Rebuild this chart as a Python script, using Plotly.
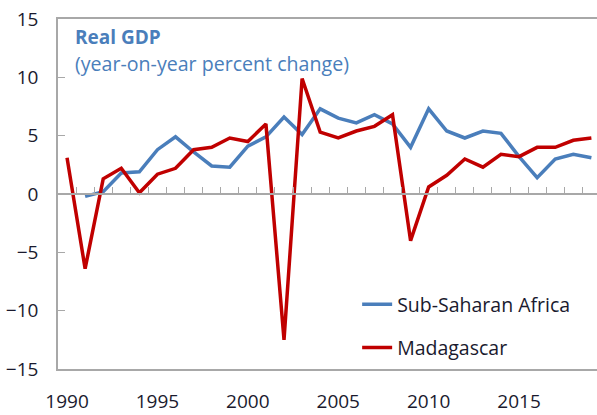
import plotly.graph_objects as go

years = list(range(1990, 2020))
ssa_years = list(range(1991, 2020))
ssa = [-0.2, 0.2, 1.8, 1.9, 3.8, 4.9, 3.6, 2.4, 2.3, 4.1, 4.9, 6.6, 5.1, 7.3, 6.5, 6.1, 6.8, 6.0, 4.0, 7.3, 5.4, 4.8, 5.4, 5.2, 3.2, 1.4, 3.0, 3.4, 3.1]
mdg = [3.1, -6.4, 1.3, 2.2, 0.1, 1.7, 2.2, 3.8, 4.0, 4.8, 4.5, 6.0, -12.5, 9.9, 5.3, 4.8, 5.4, 5.8, 6.8, -4.0, 0.6, 1.6, 3.0, 2.3, 3.4, 3.2, 4.0, 4.0, 4.6, 4.8]
xtick_vals = [1990, 1995, 2000, 2005, 2010, 2015]
ytick_vals = [-15, -10, -5, 0, 5, 10, 15]
minor_ticks = [y + 0.5 for y in range(1990, 2019)]

BLUE = "#4a7ebb"
RED = "#c00000"
AXIS = "#a8a8a8"
FONT = "Open Sans"
TXT = "#1a1a2e"

fig = go.Figure()
fig.add_trace(go.Scatter(x=ssa_years, y=ssa, mode="lines", name="Sub-Saharan Africa",
                         line=dict(color=BLUE, width=3.5), legendgroup="a"))
fig.add_trace(go.Scatter(x=years, y=mdg, mode="lines", name="Madagascar",
                         line=dict(color=RED, width=3.5), legendgroup="b"))
# invisible trace to activate zero-line axis with tick marks
fig.add_trace(go.Scatter(x=[1990], y=[0], xaxis="x2", mode="lines", showlegend=False,
                         hoverinfo="skip", line=dict(width=0)))

xr = [1989.5, 2019.31]
fig.update_layout(
    width=597, height=415,
    margin=dict(l=58, r=0, t=19, b=46),
    paper_bgcolor="white", plot_bgcolor="white",
    font=dict(family=FONT, size=19, color=TXT),
    xaxis=dict(range=xr, tickvals=xtick_vals, showgrid=False, zeroline=False,
               showline=True, linecolor=AXIS, linewidth=1.5, mirror=True,
               ticks="", ticklabelstandoff=14, automargin=False),
    xaxis2=dict(range=xr, overlaying="x", anchor="free", position=0.5, side="top",
                tickvals=minor_ticks, ticks="outside", ticklen=6, tickcolor=AXIS,
                tickwidth=1.2, showticklabels=False, showline=True, linecolor=AXIS,
                linewidth=1.5, showgrid=False, zeroline=False),
    yaxis=dict(range=[-15, 15], tickvals=ytick_vals, showgrid=False, zeroline=False,
               showline=True, linecolor=AXIS, linewidth=1.5, ticks="inside",
               ticklen=7, tickcolor=AXIS, tickwidth=1.2, ticklabelstandoff=14,
               automargin=False),
    legend=dict(x=0.555, y=0.24, xanchor="left", yanchor="top",
                bgcolor="rgba(0,0,0,0)", tracegroupgap=15,
                font=dict(family=FONT, size=19.5, color=TXT)),
    showlegend=True,
)
fig.add_annotation(text="<b>Real GDP</b>", xref="paper", yref="paper", x=0.027, y=0.949,
                   xanchor="left", yanchor="middle", showarrow=False,
                   font=dict(family=FONT, size=19, color=BLUE))
fig.add_annotation(text="(year-on-year percent change)", xref="paper", yref="paper",
                   x=0.027, y=0.874, xanchor="left", yanchor="middle", showarrow=False,
                   font=dict(family=FONT, size=19.6, color=BLUE))

fig.write_html("out.html", config={"displayModeBar": False},
               post_script="document.body.style.margin='0';")
